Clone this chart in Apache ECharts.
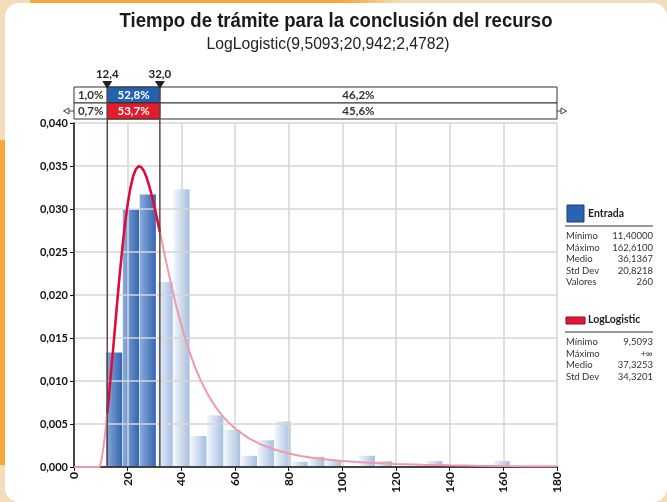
<!DOCTYPE html>
<html>
<head>
<meta charset="utf-8">
<title>Tiempo de trámite</title>
<script src="https://cdn.jsdelivr.net/npm/echarts@6/dist/echarts.min.js"></script>
<style>
html, body { margin: 0; padding: 0; }
#page { position: relative; width: 667px; height: 502px; overflow: hidden; background: #f3dcba; }
#orangeTop { position: absolute; left: 30px; top: 0; width: 370px; height: 6px; background: linear-gradient(90deg, #f6a83a 85%, #f3dcba); }
#orangeLeft { position: absolute; left: 0; top: 140px; width: 8px; height: 325px; background: #f6a83a; }
#card { position: absolute; left: 5px; top: 3px; width: 662px; height: 499px; background: #fff; border-radius: 14px; }
#chart { position: absolute; left: 0; top: 0; width: 667px; height: 502px; }
</style>
</head>
<body>
<div id="page">
	<div id="orangeTop"></div>
	<div id="orangeLeft"></div>
	<div id="card"></div>
	<div id="chart"></div>
</div>
<script>
// histogram bins (Entrada), density per bin
var binStart = [11.90, 18.18, 24.46, 30.74, 37.02, 43.30, 49.58, 55.86, 62.14, 68.42, 74.70, 80.98,
	87.26, 93.54, 99.82, 106.10, 112.38, 118.66, 124.94, 131.22, 137.50, 143.78, 150.06, 156.34];
var binEnd = [18.18, 24.46, 30.74, 37.02, 43.30, 49.58, 55.86, 62.14, 68.42, 74.70, 80.98, 87.26,
	93.54, 99.82, 106.10, 112.38, 118.66, 124.94, 131.22, 137.50, 143.78, 150.06, 156.34, 162.62];
var binDensity = [0.0133, 0.0299, 0.0317, 0.0215, 0.0323, 0.0036, 0.0060, 0.0043, 0.0013, 0.0031, 0.0053, 0.0006,
	0.0012, 0.0008, 0, 0.0013, 0.0007, 0, 0, 0.0007, 0, 0, 0, 0.0007];

// fitted LogLogistic curve
var curveX = [0, 9.5, 9.75, 10, 10.5, 11, 11.5, 12, 12.4, 13, 14, 15, 16, 17, 18, 19, 20, 21, 22, 23, 24, 25,
	26, 27, 28, 29, 30, 31, 32, 33.5, 35, 36.5, 38, 39.5, 41, 43, 45, 47.5, 50, 52.5, 55, 57.5, 60, 65,
	70, 75, 80, 85, 90, 95, 100, 110, 120, 130, 140, 150, 160, 170, 180];
var curveY = [0, 0, 0.00016, 0.00046, 0.0013, 0.00237, 0.00363, 0.00504, 0.00624, 0.00818, 0.01164, 0.01523,
	0.01883, 0.02226, 0.02543, 0.02823, 0.03057, 0.03243, 0.03376, 0.03459, 0.03496, 0.03489, 0.03446,
	0.03371, 0.03272, 0.03154, 0.03022, 0.0288, 0.02733, 0.02511, 0.02292, 0.02083, 0.01887, 0.01705,
	0.0154, 0.01342, 0.0117, 0.00988, 0.00836, 0.00711, 0.00606, 0.0052, 0.00448, 0.00336,
	0.00257, 0.0020, 0.00158, 0.00126, 0.00102, 0.00084, 0.00069, 0.00049, 0.00035, 0.00026,
	0.0002, 0.000155, 0.00012, 0.0001, 0.00008];

// delimiters and the percentage strip above the plot
var cutValues = [12.4, 32.0];
var cutLabels = ['12,4', '32,0'];
var stripEntrada = ['1,0%', '52,8%', '46,2%'];
var stripFit = ['0,7%', '53,7%', '45,6%'];

// legend statistics
var entradaStats = [['Mínimo', '11,40000'], ['Máximo', '162,6100'], ['Medio', '36,1367'], ['Std Dev', '20,8218'], ['Valores', '260']];
var fitStats = [['Mínimo', '9,5093'], ['Máximo', '+∞'], ['Medio', '37,3253'], ['Std Dev', '34,3201']];

var titleText = 'Tiempo de trámite para la conclusión del recurso';
var subText = 'LogLogistic(9,5093;20,942;2,4782)';

var FONT = 'Lato, "Open Sans", sans-serif';
var TFONT = '"Liberation Sans", Arial, sans-serif';

var bars = binStart.map(function (s, i) {
	return [s, binEnd[i], binDensity[i]];
});
var curveAll = curveX.map(function (x, i) {
	return [x, curveY[i]];
});
var curveIn = curveAll.filter(function (p) {
	return p[0] >= cutValues[0] && p[0] <= cutValues[1];
});

var darkFill = new echarts.graphic.LinearGradient(0, 0, 1, 0, [
	{ offset: 0, color: '#8aacdc' }, { offset: 1, color: '#3566b0' }]);
var lightFill = new echarts.graphic.LinearGradient(0, 0, 1, 0, [
	{ offset: 0, color: '#f3f7fc' }, { offset: 1, color: '#a6bfe2' }]);

var chart = echarts.init(document.getElementById('chart'), null, { renderer: 'canvas' });

var option = {
	animation: false,
	backgroundColor: 'transparent',
	grid: { left: 74, right: 110, top: 123, bottom: 35 },
	xAxis: {
		type: 'value', min: 0, max: 180, interval: 20, z: 3,
		axisLine: { show: true, lineStyle: { color: '#111', width: 1.5 } },
		axisTick: { show: true, length: 4, lineStyle: { color: '#111' } },
		axisLabel: { rotate: 90, margin: 5, fontFamily: FONT, fontSize: 12, fontWeight: 'bold', color: '#111' },
		splitLine: { show: true, lineStyle: { color: '#d6d6d6', width: 1.5 } }
	},
	yAxis: {
		type: 'value', min: 0, max: 0.04, interval: 0.005, z: 3,
		axisLine: { show: true, lineStyle: { color: '#111', width: 1.5 } },
		axisTick: { show: true, length: 4, lineStyle: { color: '#111' } },
		axisLabel: {
			margin: 6, fontFamily: FONT, fontSize: 11, fontWeight: 'bold', color: '#111',
			formatter: function (v) { return v.toFixed(3).replace('.', ','); }
		},
		splitLine: { show: true, lineStyle: { color: '#d6d6d6', width: 1.5 } }
	},
	series: [{
		type: 'custom',
		z: 1,
		data: bars,
		encode: { x: [0, 1], y: 2 },
		renderItem: function (params, api) {
			var a = api.coord([api.value(0), api.value(2)]);
			var b = api.coord([api.value(1), 0]);
			var mid = (api.value(0) + api.value(1)) / 2;
			var inside = mid > cutValues[0] && mid < cutValues[1];
			return {
				type: 'rect',
				shape: { x: a[0], y: a[1], width: b[0] - a[0] - 0.6, height: b[1] - a[1] },
				style: { fill: inside ? darkFill : lightFill }
			};
		}
	}, {
		type: 'line',
		z: 4,
		data: curveAll,
		showSymbol: false,
		smooth: false,
		lineStyle: { color: '#f199ae', width: 2 }
	}, {
		type: 'line',
		z: 5,
		data: curveIn,
		showSymbol: false,
		smooth: false,
		lineStyle: { color: '#de0b3a', width: 2.5 }
	}]
};
chart.setOption(option);

function px(v) {
	return chart.convertToPixel({ xAxisIndex: 0 }, v);
}
function py(v) {
	return chart.convertToPixel({ yAxisIndex: 0 }, v);
}

// condensed title: squeeze a normal face to the reference width
var measure = document.createElement('canvas').getContext('2d');
function squeeze(text, font, targetWidth) {
	measure.font = font;
	return targetWidth / measure.measureText(text).width;
}

var left = px(0), right = px(180), bottom = py(0);
var c1 = px(cutValues[0]), c2 = px(cutValues[1]);
var r1 = 87, r2 = 103;
var els = [];

var tFont = 'bold 20px ' + TFONT, sFont = '16px ' + TFONT;
els.push({ type: 'text', z: 100, x: 336, y: 21, scaleX: squeeze(titleText, tFont, 433),
	style: { text: titleText, font: tFont, fill: '#1a1a1a', textAlign: 'center', textVerticalAlign: 'middle' } });
els.push({ type: 'text', z: 100, x: 328, y: 45, scaleX: squeeze(subText, sFont, 243),
	style: { text: subText, font: sFont, fill: '#222', textAlign: 'center', textVerticalAlign: 'middle' } });

function txt(x, y, s, opts) {
	opts = opts || {};
	els.push({
		type: 'text', z: 100, x: x, y: y,
		style: {
			text: s, fill: opts.color || '#222', font: (opts.weight || 'normal') + ' ' + (opts.size || 10) + 'px ' + FONT,
			textAlign: opts.align || 'left', textVerticalAlign: 'middle'
		}
	});
}

// percentage strip
[[r1, stripEntrada, '#2461b2'], [r2, stripFit, '#e41b2a']].forEach(function (row) {
	var y = row[0];
	els.push({ type: 'rect', z: 100, shape: { x: left, y: y, width: right - left, height: 16 },
		style: { fill: '#fff', stroke: '#333', lineWidth: 1 } });
	els.push({ type: 'rect', z: 100, shape: { x: c1, y: y, width: c2 - c1, height: 16 },
		style: { fill: row[2], stroke: '#333', lineWidth: 1 } });
	txt((left + c1) / 2, y + 8.5, row[1][0], { weight: 'bold', size: 11.5, align: 'center', color: '#333' });
	txt((c1 + c2) / 2, y + 8.5, row[1][1], { weight: 'bold', size: 11.5, align: 'center', color: '#fff' });
	txt((c2 + right) / 2, y + 8.5, row[1][2], { weight: 'bold', size: 11.5, align: 'center', color: '#333' });
});

// arrows on the fit row
els.push({ type: 'polygon', z: 100, shape: { points: [[69, 108], [69, 114], [63.5, 111]] },
	style: { fill: '#fff', stroke: '#444', lineWidth: 1 } });
els.push({ type: 'line', z: 100, shape: { x1: 69, y1: 111, x2: left, y2: 111 }, style: { stroke: '#444', lineWidth: 1 } });
els.push({ type: 'line', z: 100, shape: { x1: right, y1: 111, x2: right + 4, y2: 111 }, style: { stroke: '#444', lineWidth: 1 } });
els.push({ type: 'polygon', z: 100, shape: { points: [[right + 4, 108], [right + 4, 114], [right + 9.5, 111]] },
	style: { fill: '#fff', stroke: '#444', lineWidth: 1 } });

// delimiter lines, triangles, labels
[c1, c2].forEach(function (x, i) {
	els.push({ type: 'line', z: 101, shape: { x1: x, y1: r1, x2: x, y2: bottom },
		style: { stroke: '#5c4848', lineWidth: 1.5 } });
	els.push({ type: 'polygon', z: 101, shape: { points: [[x - 5, 81], [x + 5, 81], [x, 89]] },
		style: { fill: '#222' } });
	txt(x, 74, cutLabels[i], { weight: 'bold', size: 11.5, align: 'center', color: '#222' });
});

// legend panel
function legendBlock(y0, title, stats, swatch) {
	els.push(swatch);
	txt(588, y0, title, { weight: 'bold', size: 10.5, color: '#222' });
	els.push({ type: 'line', z: 100, shape: { x1: 565, y1: y0 + 12, x2: 653, y2: y0 + 12 },
		style: { stroke: '#333', lineWidth: 1 } });
	stats.forEach(function (s, i) {
		var y = y0 + 22 + i * 11.5;
		txt(566, y, s[0], { size: 9.5, color: '#333' });
		txt(653, y, s[1], { size: 9.5, color: '#333', align: 'right' });
	});
}
legendBlock(214, 'Entrada', entradaStats,
	{ type: 'rect', z: 100, shape: { x: 567, y: 205, width: 17, height: 17 }, style: { fill: '#2a62b4', stroke: '#1e3f73', lineWidth: 1 } });
legendBlock(320, 'LogLogistic', fitStats,
	{ type: 'rect', z: 100, shape: { x: 566, y: 317, width: 19, height: 7 }, style: { fill: '#e0163a', stroke: '#8a1028', lineWidth: 1 } });

chart.setOption({ graphic: { elements: els } });
</script>
</body>
</html>
